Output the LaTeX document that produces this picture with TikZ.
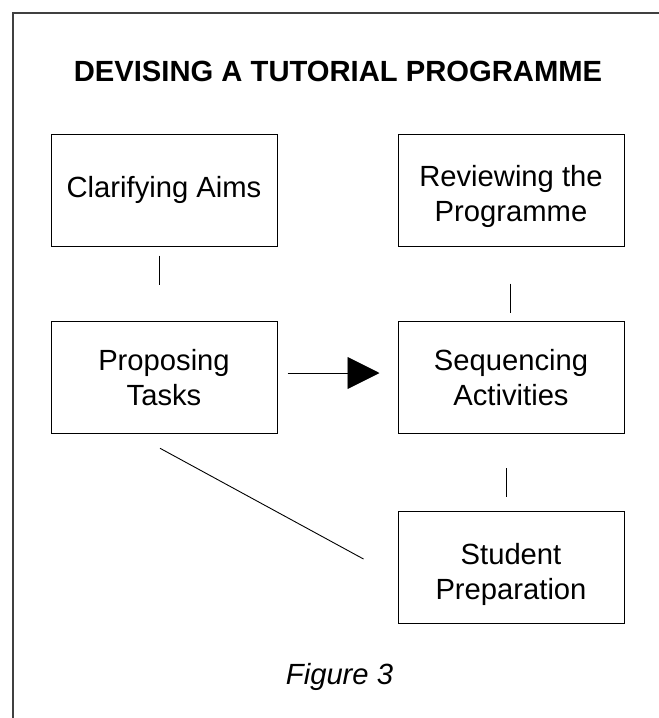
\documentclass[tikz,border=0pt]{standalone}
\usepackage{fontspec}
\setmainfont{Liberation Sans}
\usetikzlibrary{arrows.meta}
\begin{document}
\begin{tikzpicture}[x=1pt,y=-1pt,
  stagebox/.style={draw=black,line width=1pt,minimum width=226pt,minimum height=112.5pt,
    inner sep=0pt,align=center,font=\fontsize{29.2}{35}\selectfont},
  link/.style={draw=black,line width=0.9pt},
  framerule/.style={draw=black!75,line width=1.3pt}]
\useasboundingbox (0,0) rectangle (659,718);
\fill[white] (0,0) rectangle (659,718);
\draw[framerule] (659,13) -- (13,13) -- (13,718);
\node[font=\fontsize{29.2}{35}\selectfont\bfseries,anchor=base] (title) at (338,81) {DEVISING A TUTORIAL PROGRAMME};
\node[stagebox,minimum height=112pt] (clar) at (164,190) {Clarifying Aims};
\node[stagebox,minimum height=112pt,text height=68.3pt] (rev) at (511,190) {Reviewing the\\Programme};
\node[stagebox] (prop) at (164,377.5) {Proposing\\Tasks};
\node[stagebox] (seq) at (511,377.5) {Sequencing\\Activities};
\node[stagebox,text height=70pt] (stud) at (511,567.5) {Student\\Preparation};
\node[font=\fontsize{29.2}{35}\selectfont\itshape,anchor=base] (fig) at (339.5,684) {Figure 3};
\draw[link] ([shift={(-5,9)}]clar.south) -- ([shift={(-5,-36)}]prop.north);
\draw[link] ([shift={(-1,37)}]rev.south) -- ([shift={(-1,-8)}]seq.north);
\draw[link] ([shift={(-5,34)}]seq.south) -- ([shift={(-5,-14)}]stud.north);
\draw[link,-{Triangle[length=32pt,width=32pt]}] ([shift={(10,-4.5)}]prop.east) -- ([shift={(-18,-4.5)}]seq.west);
\draw[link] ([shift={(-4,14)}]prop.south) -- ([shift={(-34,-8.5)}]stud.west);
\end{tikzpicture}
\end{document}
